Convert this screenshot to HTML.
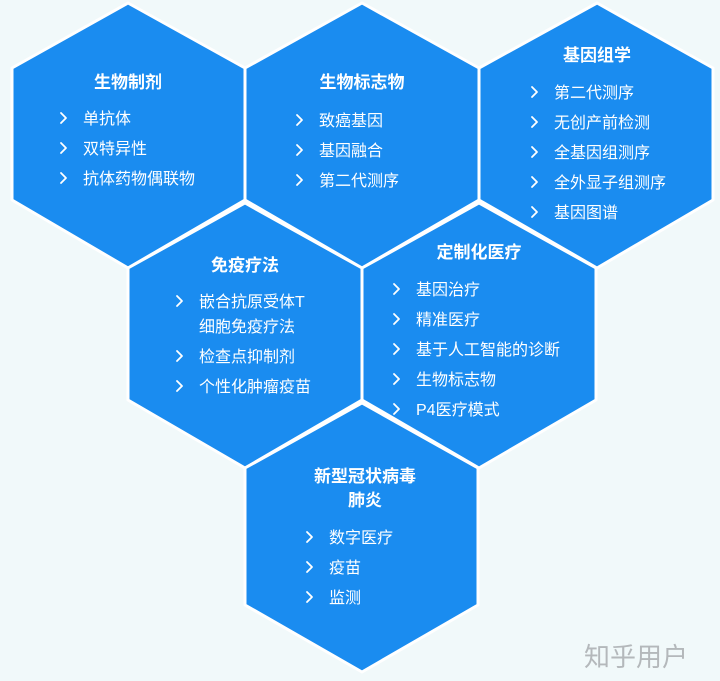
<!DOCTYPE html>
<html><head><meta charset="utf-8"><style>
html,body{margin:0;padding:0;background:#f1f9fa;}
svg{display:block;}
text{font-family:"Liberation Sans","Noto Sans CJK SC",sans-serif;fill:#fff;}
.t{font-size:17px;font-weight:bold;text-anchor:middle;}
.i text{font-size:16px;}
</style></head><body>
<svg width="720" height="681" viewBox="0 0 720 681" xmlns="http://www.w3.org/2000/svg">
<defs><polyline id="ch" points="0,-5 5,0 0,5" fill="none" stroke="#fff" stroke-width="1.8" stroke-linecap="round" stroke-linejoin="round"/></defs>
<g fill="#1a8cf0" stroke="#ffffff" stroke-width="3" stroke-linejoin="round">
<polygon points="128,3 245,68 245,200 128,268 12,200 12,68"/>
<polygon points="362,3 479,68 479,200 362,268 245,200 245,68"/>
<polygon points="597,3 713,68 713,200 597,268 479,200 479,68"/>
<polygon points="245,203 362,268 362,400 245,468 128,400 128,268"/>
<polygon points="479,203 596,268 596,400 479,468 362,400 362,268"/>
<polygon points="362,403 478,468 478,605 362,672 245,605 245,468"/>
</g>
<text class="t" x="128" y="88">生物制剂</text>
<g class="i"><use href="#ch" x="61" y="118"/><text x="83" y="124">单抗体</text>
<use href="#ch" x="61" y="148"/><text x="83" y="154">双特异性</text>
<use href="#ch" x="61" y="178"/><text x="83" y="184">抗体药物偶联物</text></g>

<text class="t" x="362" y="88">生物标志物</text>
<g class="i"><use href="#ch" x="297" y="120"/><text x="319" y="126">致癌基因</text>
<use href="#ch" x="297" y="150"/><text x="319" y="156">基因融合</text>
<use href="#ch" x="297" y="180"/><text x="319" y="186">第二代测序</text></g>

<text class="t" x="597" y="61">基因组学</text>
<g class="i"><use href="#ch" x="532" y="92"/><text x="554" y="98">第二代测序</text>
<use href="#ch" x="532" y="122"/><text x="554" y="128">无创产前检测</text>
<use href="#ch" x="532" y="152"/><text x="554" y="158">全基因组测序</text>
<use href="#ch" x="532" y="182"/><text x="554" y="188">全外显子组测序</text>
<use href="#ch" x="532" y="212"/><text x="554" y="218">基因图谱</text></g>

<text class="t" x="245" y="271">免疫疗法</text>
<g class="i"><use href="#ch" x="177" y="301"/><text x="199" y="307">嵌合抗原受体T</text>
<text x="199" y="332">细胞免疫疗法</text>
<use href="#ch" x="177" y="356"/><text x="199" y="362">检查点抑制剂</text>
<use href="#ch" x="177" y="386"/><text x="199" y="392">个性化肿瘤疫苗</text></g>

<text class="t" x="479" y="258">定制化医疗</text>
<g class="i"><use href="#ch" x="394" y="289"/><text x="416" y="295">基因治疗</text>
<use href="#ch" x="394" y="319"/><text x="416" y="325">精准医疗</text>
<use href="#ch" x="394" y="349"/><text x="416" y="355">基于人工智能的诊断</text>
<use href="#ch" x="394" y="379"/><text x="416" y="385">生物标志物</text>
<use href="#ch" x="394" y="409"/><text x="416" y="415">P4医疗模式</text></g>

<text class="t" x="365" y="482">新型冠状病毒</text>
<text class="t" x="365" y="506">肺炎</text>
<g class="i"><use href="#ch" x="307" y="537"/><text x="329" y="543">数字医疗</text>
<use href="#ch" x="307" y="567"/><text x="329" y="573">疫苗</text>
<use href="#ch" x="307" y="597"/><text x="329" y="603">监测</text></g>

<text x="584" y="666" style="font-size:26px;fill:#b4b8bb;">知乎用户</text>
</svg>
</body></html>
